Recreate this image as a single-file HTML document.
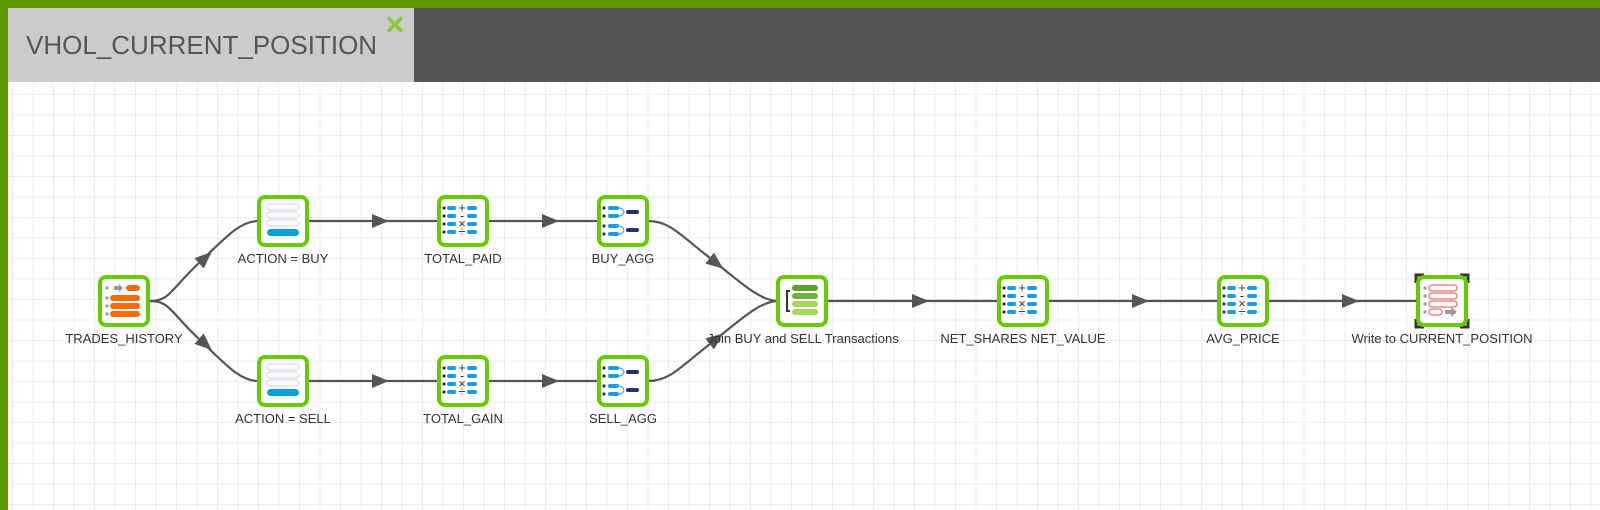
<!DOCTYPE html>
<html><head><meta charset="utf-8"><style>
html,body{margin:0;padding:0;width:1600px;height:510px;overflow:hidden;background:#5f9a00;font-family:"Liberation Sans",sans-serif}
#canvas{position:absolute;left:8px;top:8px;width:1592px;height:502px;background:#fff;
background-image:linear-gradient(#ececec 1px,transparent 1px),linear-gradient(90deg,#ececec 1px,transparent 1px);background-size:20.5px 20.5px;background-position:4px 4px}
#bar{position:absolute;left:8px;top:8px;width:1592px;height:74px;background:#555}
#tab{position:absolute;left:8px;top:8px;width:406px;height:74px;background:#cbcbcb;color:#555;font-size:26px;line-height:74px;padding-left:18px;box-sizing:border-box}
#x{position:absolute;left:384px;top:10px;color:#8cc63f;font-size:26px;font-weight:bold}
svg{position:absolute;left:0;top:0}
text{font-family:"Liberation Sans",sans-serif;font-size:13px;fill:#333;text-anchor:middle}
</style></head><body>
<div id="canvas"></div><div id="bar"></div><div id="tab">VHOL_CURRENT_POSITION</div><div id="x">✕</div>
<svg width="1600" height="510">
<defs>
<path id="ah" d="M-8 -7 L9 0 L-8 7z" fill="#555"/>
<g id="box"><rect x="-24" y="-24" width="48" height="48" rx="6" fill="#fff" stroke="#66cc00" stroke-width="4"/></g>
<g id="calc"><use href="#box"/>
 <g fill="#1b9de2"><rect x="-16" y="-15" width="9" height="4" rx="2"/><rect x="4" y="-15" width="10" height="4" rx="2"/><rect x="-16" y="-7" width="9" height="4" rx="2"/><rect x="4" y="-7" width="10" height="4" rx="2"/><rect x="-16" y="1" width="9" height="4" rx="2"/><rect x="4" y="1" width="10" height="4" rx="2"/><rect x="-16" y="9" width="9" height="4" rx="2"/><rect x="4" y="9" width="10" height="4" rx="2"/></g>
 <g fill="#2e2a7a"><circle cx="-19" cy="-13" r="1.6"/><circle cx="-19" cy="-5" r="1.6"/><circle cx="-19" cy="3" r="1.6"/><circle cx="-19" cy="11" r="1.6"/></g>
 <g><text x="-1" y="-9" fill="#5a4aa0" font-size="11">+</text><text x="-1" y="-1" fill="#5a4aa0" font-size="11">-</text><text x="-1" y="7" fill="#5a4aa0" font-size="11">×</text><text x="-1" y="15" fill="#5a4aa0" font-size="11">÷</text></g></g>
<g id="filt"><use href="#box"/><g fill="none" stroke="#ddd8f0" stroke-width="1.2"><rect x="-16" y="-17" width="32" height="6" rx="3"/><rect x="-16" y="-9" width="32" height="6" rx="3"/><rect x="-16" y="-1" width="32" height="6" rx="3"/></g><rect x="-16" y="8" width="32" height="7" rx="3.5" fill="#0aa0e0"/></g>
<g id="agg"><use href="#box"/><g fill="#1b9de2"><rect x="-15" y="-15" width="11" height="4" rx="2"/><rect x="-15" y="-7" width="11" height="4" rx="2"/><rect x="-15" y="3" width="11" height="4" rx="2"/><rect x="-15" y="11" width="11" height="4" rx="2"/></g>
<g fill="#2e2a7a"><circle cx="-19" cy="-13" r="1.6"/><circle cx="-19" cy="-5" r="1.6"/><circle cx="-19" cy="5" r="1.6"/><circle cx="-19" cy="13" r="1.6"/><rect x="3" y="-11" width="13" height="4" rx="2"/><rect x="3" y="7" width="13" height="4" rx="2"/></g>
<path d="M-4 -13 Q0 -13 1 -9 M-4 -5 Q0 -5 1 -9 M-4 5 Q0 5 1 9 M-4 13 Q0 13 1 9" stroke="#1b9de2" fill="none" stroke-width="1"/></g>
</defs>
<g fill="none" stroke="#555" stroke-width="2.2">
<path d="M150 301 C170 301 170 290 200 262 C225 238 240 221 258 221"/>
<path d="M150 301 C170 301 170 312 200 340 C225 364 240 381 258 381"/>
<path d="M308 221H438M308 381H438M488 221H598M488 381H598"/>
<path d="M648 221 C670 221 680 235 710 258 C740 282 760 301 778 301"/>
<path d="M648 381 C670 381 680 367 710 344 C740 320 760 301 778 301"/>
<path d="M827 301H998M1048 301H1218M1268 301H1418"/>
</g>
<use href="#ah" transform="translate(205,258) rotate(-42)"/>
<use href="#ah" transform="translate(205,344) rotate(42)"/>
<use href="#ah" transform="translate(716,263) rotate(38)"/>
<use href="#ah" transform="translate(716,339) rotate(-38)"/>
<use href="#ah" transform="translate(380,221)"/><use href="#ah" transform="translate(380,381)"/>
<use href="#ah" transform="translate(550,221)"/><use href="#ah" transform="translate(550,381)"/>
<use href="#ah" transform="translate(920,301)"/><use href="#ah" transform="translate(1140,301)"/><use href="#ah" transform="translate(1350,301)"/>
<g transform="translate(124,301)"><use href="#box"/><g fill="#999"><circle cx="-17" cy="-13" r="1.6"/><circle cx="-17" cy="-3" r="1.6"/><circle cx="-17" cy="5" r="1.6"/><circle cx="-17" cy="13" r="1.6"/><path d="M-10 -15h5v-2l4 4-4 4v-2h-5z"/></g><g fill="#ff6a00"><rect x="2" y="-16" width="14" height="6" rx="3"/><rect x="-14" y="-6" width="30" height="6" rx="3"/><rect x="-14" y="2" width="30" height="6" rx="3"/><rect x="-14" y="10" width="30" height="6" rx="3"/></g></g>
<g transform="translate(283,221)"><use href="#filt"/></g>
<g transform="translate(283,381)"><use href="#filt"/></g>
<g transform="translate(463,221)"><use href="#calc"/></g>
<g transform="translate(463,381)"><use href="#calc"/></g>
<g transform="translate(623,221)"><use href="#agg"/></g>
<g transform="translate(623,381)"><use href="#agg"/></g>
<g transform="translate(802,301)"><use href="#box"/><path d="M-12 -10h-3v20h3" stroke="#333" stroke-width="2" fill="none"/><rect x="-10" y="-16" width="26" height="6" rx="3" fill="#5aa02c"/><rect x="-10" y="-8" width="26" height="6" rx="3" fill="#6cb33f"/><rect x="-10" y="0" width="26" height="6" rx="3" fill="#a6d65a"/><rect x="-10" y="8" width="26" height="6" rx="3" fill="#a6d65a"/></g>
<g transform="translate(1023,301)"><use href="#calc"/></g>
<g transform="translate(1243,301)"><use href="#calc"/></g>
<g transform="translate(1442,301)"><path d="M-26 -18v-8h8M18 -26h8v8M26 18v8h-8M-18 26h-8v-8" stroke="#333" stroke-width="3" fill="none"/><use href="#box"/><g fill="#999"><circle cx="-17" cy="-13" r="1.6"/><circle cx="-17" cy="-5" r="1.6"/><circle cx="-17" cy="3" r="1.6"/><circle cx="-17" cy="11" r="1.6"/><path d="M3 9h6v-3l6 5-6 5v-3h-6z"/></g><g fill="none" stroke="#f07070" stroke-width="1.3"><rect x="-13" y="-16" width="28" height="6" rx="3"/><rect x="-13" y="-8" width="28" height="6" rx="3"/><rect x="-13" y="0" width="28" height="6" rx="3"/><rect x="-13" y="8" width="13" height="6" rx="3"/></g></g>
<text x="124" y="343">TRADES_HISTORY</text>
<text x="283" y="263">ACTION = BUY</text><text x="283" y="423">ACTION = SELL</text>
<text x="463" y="263">TOTAL_PAID</text><text x="463" y="423">TOTAL_GAIN</text>
<text x="623" y="263">BUY_AGG</text><text x="623" y="423">SELL_AGG</text>
<text x="803" y="343">Join BUY and SELL Transactions</text>
<text x="1023" y="343">NET_SHARES NET_VALUE</text>
<text x="1243" y="343">AVG_PRICE</text>
<text x="1442" y="343">Write to CURRENT_POSITION</text>
</svg>
</body></html>
